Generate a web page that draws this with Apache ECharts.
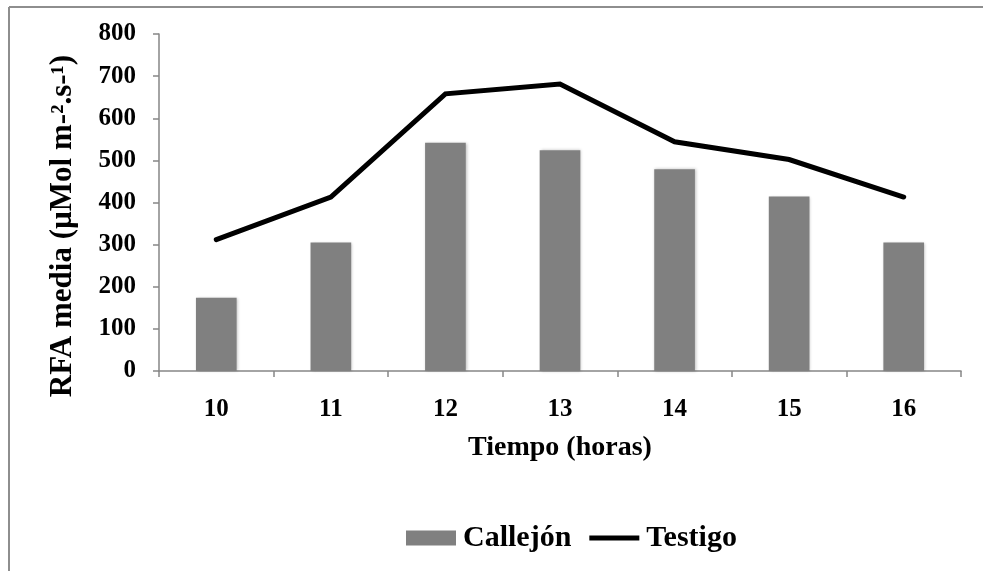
<!DOCTYPE html>
<html>
<head>
<meta charset="utf-8">
<script src="https://cdn.jsdelivr.net/npm/echarts@6/dist/echarts.min.js"></script>
<style>
  html, body { margin: 0; padding: 0; background: #fff; }
  #chart { width: 983px; height: 571px; }
</style>
</head>
<body>
<div id="chart"></div>
<script>
// Hours of measurement
const horas = ['10', '11', '12', '13', '14', '15', '16'];
// Mean PAR under the alley (bars)
const callejon = [174, 305, 542, 524, 479, 414, 305];
// Mean PAR in the open control (line)
const testigo = [312, 413, 658, 681, 544, 502, 413];
// Y axis range and step
const yMin = 0, yMax = 800, yStep = 100;

const serif = '"Liberation Serif", "Times New Roman", serif';
const axisGray = '#868686';

// thick horizontal bar centred in a 50x15 legend box
const lineIcon = 'path://M0,0L0.01,0L0.01,0.01Z M0,15L0.01,15L0.01,14.99Z M0,5L50,5L50,10L0,10Z';

const chart = echarts.init(document.getElementById('chart'), null, { renderer: 'canvas' });

chart.setOption({
  backgroundColor: '#ffffff',
  animation: false,
  graphic: [
    // frame on top and left edges
    { type: 'line', shape: { x1: 9, y1: 7, x2: 983, y2: 7 }, style: { stroke: '#8e8e8e', lineWidth: 2 } },
    { type: 'line', shape: { x1: 9, y1: 7, x2: 9, y2: 571 }, style: { stroke: '#8e8e8e', lineWidth: 2 } },
    // y axis title
    {
      type: 'text', x: 63, y: 226, rotation: Math.PI / 2,
      style: {
        text: 'RFA media (µMol m-².s-¹)',
        font: 'bold 31px ' + serif,
        fill: '#000', align: 'center', verticalAlign: 'middle'
      }
    }
  ],
  grid: { left: 159, right: 22, top: 34, bottom: 200 },
  legend: {
    left: 401, top: 518,
    itemWidth: 50, itemHeight: 15, itemGap: 18,
    textStyle: { fontFamily: serif, fontWeight: 'bold', fontSize: 30, color: '#000', padding: [0, 0, 0, 2] },
    data: [
      { name: 'Callejón', icon: 'rect' },
      { name: 'Testigo', icon: lineIcon, itemStyle: { color: '#000' } }
    ]
  },
  xAxis: {
    type: 'category',
    data: horas,
    boundaryGap: true,
    name: 'Tiempo (horas)',
    nameLocation: 'middle',
    nameGap: 63,
    nameTextStyle: { fontFamily: serif, fontWeight: 'bold', fontSize: 28, color: '#000' },
    axisLine: { lineStyle: { color: axisGray, width: 1.5 } },
    axisTick: { show: true, length: 6, alignWithLabel: false, lineStyle: { color: axisGray, width: 1.5 } },
    axisLabel: { margin: 26, fontFamily: serif, fontWeight: 'bold', fontSize: 25, color: '#000' },
    splitLine: { show: false }
  },
  yAxis: {
    type: 'value',
    min: yMin, max: yMax, interval: yStep,
    axisLine: { show: true, lineStyle: { color: axisGray, width: 1.5 } },
    axisTick: { show: true, length: 6, lineStyle: { color: axisGray, width: 1.5 } },
    axisLabel: { margin: 23, fontFamily: serif, fontWeight: 'bold', fontSize: 25, color: '#000' },
    splitLine: { show: false }
  },
  series: [
    {
      name: 'Callejón',
      type: 'bar',
      data: callejon,
      barWidth: '35.5%',
      itemStyle: {
        color: '#808080',
        shadowBlur: 3, shadowColor: 'rgba(0,0,0,0.25)', shadowOffsetX: 1, shadowOffsetY: 0
      }
    },
    {
      name: 'Testigo',
      type: 'line',
      data: testigo,
      symbol: 'none',
      z: 3,
      lineStyle: { color: '#000', width: 5, cap: 'round', join: 'miter' },
      itemStyle: { color: '#000' }
    }
  ]
});
</script>
</body>
</html>
